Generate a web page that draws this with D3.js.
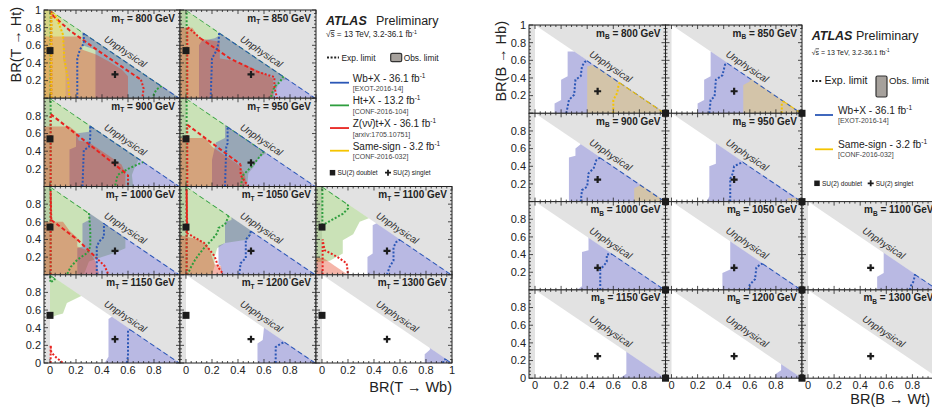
<!DOCTYPE html>
<html><head><meta charset="utf-8">
<script src="https://cdn.jsdelivr.net/npm/d3@7"></script>
<style>
body{margin:0;background:#fff}
svg{display:block}
text{font-family:"Liberation Sans",Arial,Helvetica,sans-serif;fill:#222}
</style>
</head><body>
<svg id="c" width="932" height="409"></svg>
<script>
// ---------- data ----------
const massesT = [800, 850, 900, 950, 1000, 1050, 1100, 1150, 1200, 1300];
const massesB = [800, 850, 900, 950, 1000, 1050, 1100, 1150, 1200, 1300];
const xTickLabels = ["0", "0.2", "0.4", "0.6", "0.8", "1"];
const yTickLabels = ["0", "0.2", "0.4", "0.6", "0.8", "1"];
const tDoublet = [0, 0.54], tSinglet = [0.5, 0.27];
const bDoublet = [1, 0], bSinglet = [0.48, 0.25];

// observed exclusion regions, BR(Wb|Wt) vs BR(Ht|Hb), one entry per mass
const htObsT = [
  [[-0.05,0],[-0.05,1.2],[1.2,1.2],[1.2,0]],
  [[-0.05,1.2],[1.2,1.2],[0.79,0.21],[0.72,0.2],[0.7,0.12],[0.68,0.05],[0.68,0],[-0.05,0]],
  [[-0.05,1.2],[1.2,1.2],[0.69,0.33],[0.65,0.21],[0.63,0.13],[0.64,0],[-0.05,0]],
  [[-0.05,1.2],[1.2,1.2],[0.62,0.38],[0.56,0.33],[0.52,0.22],[0.48,0.15],[0.47,0],[-0.05,0]],
  [[-0.05,1.2],[1.2,1.2],[0.58,0.42],[0.58,0.3],[0.5,0.25],[0.4,0.2],[0.3,0.15],[0.26,0],[-0.05,0]],
  [[-0.05,1.2],[1.2,1.2],[0.51,0.49],[0.48,0.4],[0.3,0.36],[0.24,0.3],[0.22,0.2],[0.22,0.1],[0.2,0],[-0.05,0]],
  [[-0.05,1.2],[0.4,1.2],[0.36,0.64],[0.29,0.6],[0.24,0.46],[0.16,0.39],[0.16,0.24],[0.06,0.16],[-0.05,0.14]],
  [[0,1.2],[0.3,1.2],[0.24,0.76],[0.13,0.68],[0.1,0.56],[0.05,0.54],[0.02,0.52],[0,0.52]],
  null,
  null
];
const wbObsT = [
  [[0.25,1.2],[0.25,0.6],[0.35,0.55],[0.35,0],[1.2,0],[1.2,1.2]],
  [[0.27,1.2],[0.27,0.72],[0.22,0.68],[0.12,0.65],[0.1,0.6],[0.1,0],[1.2,0],[1.2,1.2]],
  [[0.3,1.2],[0.3,0.62],[0.2,0.6],[0.2,0.45],[0.15,0.42],[0.15,0],[1.2,0],[1.2,1.2]],
  [[0.3,1.2],[0.3,0.55],[0.23,0.5],[0.2,0.3],[0.2,0],[1.2,0],[1.2,1.2]],
  [[0.3,1.2],[0.3,0.62],[0.25,0.58],[0.25,0.32],[0.21,0.3],[0.21,0],[1.2,0],[1.2,1.2]],
  [[0.35,1.2],[0.35,0.62],[0.3,0.6],[0.3,0.36],[0.25,0.33],[0.25,0.12],[0.27,0.1],[0.27,0],[1.2,0],[1.2,1.2]],
  [[0.35,0],[0.35,0.2],[0.39,0.24],[0.39,0.56],[0.44,0.6],[0.44,1.2],[1.2,1.2],[1.2,0]],
  [[0.42,0],[0.45,0.07],[0.45,0.5],[0.5,0.55],[0.5,1.2],[1.2,1.2],[1.2,0]],
  [[0.55,0],[0.55,0.22],[0.59,0.26],[0.6,0.4],[0.6,1.2],[1.2,1.2],[1.2,0]],
  [[0.79,0],[0.79,0.1],[0.83,0.15],[0.83,1.2],[1.2,1.2],[1.2,0]]
];
const ztObsT = [
  [[-0.05,0.7],[0.24,0.7],[0.25,0.55],[0.35,0.5],[0.45,0.42],[0.55,0.33],[0.6,0.25],[0.6,0],[-0.05,0]],
  [[-0.05,0.8],[0.05,0.8],[0.1,0.68],[0.26,0.64],[0.26,0.45],[0.35,0.43],[0.5,0.35],[0.6,0.28],[0.67,0.22],[0.67,0],[-0.05,0]],
  [[-0.05,0.68],[0.15,0.68],[0.2,0.62],[0.22,0.52],[0.3,0.5],[0.35,0.45],[0.45,0.35],[0.55,0.25],[0.58,0.15],[0.58,0],[-0.05,0]],
  [[-0.05,0.55],[0.15,0.55],[0.2,0.45],[0.3,0.35],[0.4,0.25],[0.45,0.15],[0.47,0],[-0.05,0]],
  [[-0.05,0.6],[0.1,0.6],[0.15,0.5],[0.21,0.42],[0.21,0.32],[0.3,0.27],[0.35,0.15],[0.38,0],[-0.05,0]],
  [[-0.05,0.45],[0.1,0.4],[0.18,0.3],[0.2,0.2],[0.22,0.12],[0.27,0.1],[0.28,0],[-0.05,0]],
  [[-0.05,0.2],[0.02,0.18],[0.1,0.1],[0.2,0],[-0.05,0]],
  null, null, null
];
const ssObsT = [
  [[-0.05,1.2],[0.06,1.2],[0.1,0.75],[0.1,0.45],[0.12,0.3],[0.12,0],[-0.05,0]],
  null, null, null, null, null, null, null, null, null
];

// expected limit contours
const htExpT = [
  [[0.005,0],[0.005,1],[0.86,0.14],[0.82,0.1],[0.8,0.05],[0.79,0]],
  [[0.005,0],[0.005,1],[0.75,0.25],[0.72,0.18],[0.68,0.13],[0.65,0]],
  [[0.005,0],[0.005,1],[0.72,0.28],[0.6,0.2],[0.52,0.13],[0.5,0]],
  [[0.005,0],[0.005,1],[0.6,0.4],[0.52,0.25],[0.44,0.13],[0.42,0]],
  [[0.005,0],[0.005,1],[0.3,0.7],[0.31,0.5],[0.31,0.32],[0.29,0.25],[0.21,0.17],[0.16,0.09],[0.13,0]],
  [[0.005,0],[0.005,1],[0.33,0.67],[0.3,0.57],[0.25,0.53],[0.24,0.47],[0.19,0.38],[0.16,0.34],[0.11,0.25],[0.07,0.17],[0.04,0.09],[0.01,0]],
  [[0.003,0.56],[0.003,1],[0.2,0.8],[0.2,0.75],[0.16,0.69],[0.05,0.6],[0.003,0.56]],
  [[0.003,0.92],[0.003,1],[0.04,0.96],[0.03,0.93],[0.003,0.92]],
  null, null
];
const ztExpT = [
  [[0.01,0],[0.01,0.99],[0.02,0.94],[0.15,0.77],[0.36,0.55],[0.7,0.21],[0.72,0.11],[0.71,0]],
  [[0.01,0],[0.01,0.81],[0.11,0.68],[0.34,0.45],[0.55,0.3],[0.68,0.24],[0.68,0.13],[0.7,0]],
  [[0.005,0],[0.005,0.82],[0.3,0.48],[0.6,0.13],[0.6,0]],
  [[0.01,0],[0.01,0.7],[0.42,0.25],[0.42,0.13],[0.48,0]],
  [[0.005,0],[0.005,0.95],[0.01,0.62],[0.21,0.4],[0.35,0.2],[0.42,0.1],[0.45,0]],
  [[0.005,0],[0.005,0.97],[0.01,0.47],[0.14,0.36],[0.22,0.21],[0.25,0.08],[0.29,0]],
  [[0.005,0],[0.005,0.4],[0.02,0.28],[0.12,0.2],[0.19,0.13],[0.2,0]],
  [[0.005,0],[0.005,0.2],[0.01,0.12],[0.05,0.06],[0.1,0]],
  null, null
];
const wbExpT = [
  [[0.21,0],[0.21,0.45],[0.23,0.55],[0.26,0.62],[0.26,0.74],[1,0]],
  [[0.19,0],[0.2,0.45],[0.23,0.53],[0.25,0.62],[0.255,0.745],[1,0]],
  [[0.25,0],[0.26,0.41],[0.3,0.45],[0.31,0.56],[0.31,0.69],[1,0]],
  [[0.3,0],[0.31,0.45],[0.32,0.49],[0.32,0.68],[1,0]],
  [[0.36,0],[0.36,0.32],[0.38,0.38],[0.415,0.43],[0.415,0.585],[1,0]],
  [[0.41,0],[0.42,0.13],[0.46,0.19],[0.46,0.4],[0.49,0.45],[0.5,0.5],[1,0]],
  [[0.5,0],[0.52,0.09],[0.55,0.16],[0.55,0.31],[0.57,0.37],[0.6,0.4],[1,0]],
  [[0.59,0],[0.6,0.07],[0.6,0.37],[0.62,0.38],[1,0]],
  [[0.69,0],[0.69,0.18],[0.73,0.22],[0.76,0.24],[1,0]],
  [[0.93,0],[0.94,0.04],[0.955,0.045],[1,0]]
];
const ssExpT = [
  [[0.01,0],[0.01,1],[0.03,0.98],[0.08,0.8],[0.1,0.72],[0.11,0.45],[0.14,0.2],[0.15,0]],
  null, null, null, null, null, null, null, null, null
];

const wbObsB = [
  [[0.15,0],[0.15,0.11],[0.2,0.15],[0.2,0.38],[0.25,0.42],[0.25,0.7],[0.3,0.7],[0.3,1.2],[1.2,1.2],[1.2,0]],
  [[0.2,0],[0.2,0.11],[0.25,0.15],[0.25,0.38],[0.3,0.42],[0.3,0.7],[0.35,0.7],[0.35,1.2],[1.2,1.2],[1.2,0]],
  [[0.26,0],[0.26,0.5],[0.31,0.52],[0.31,0.6],[0.35,0.65],[0.35,1.2],[1.2,1.2],[1.2,0]],
  [[0.27,0],[0.29,0.06],[0.29,0.4],[0.34,0.43],[0.34,1.2],[1.2,1.2],[1.2,0]],
  [[0.32,0],[0.36,0.04],[0.36,0.43],[0.41,0.45],[0.41,1.2],[1.2,1.2],[1.2,0]],
  [[0.39,0],[0.39,0.19],[0.45,0.23],[0.45,1.2],[1.2,1.2],[1.2,0]],
  [[0.53,0],[0.53,0.15],[0.58,0.19],[0.58,1.2],[1.2,1.2],[1.2,0]],
  [[0.65,0],[0.7,0.05],[0.7,1.2],[1.2,1.2],[1.2,0]],
  [[0.79,0],[0.8,0.05],[0.84,0.09],[0.84,1.2],[1.2,1.2],[1.2,0]],
  null
];
const ssObsB = [
  [[0.4,0],[0.4,0.53],[0.45,0.55],[0.45,1.2],[1.2,1.2],[1.2,0]],
  [[0.55,0],[0.55,0.32],[0.6,0.36],[0.6,1.2],[1.2,1.2],[1.2,0]],
  [[0.76,0],[0.76,0.15],[0.8,0.18],[0.8,1.2],[1.2,1.2],[1.2,0]],
  [[0.89,0],[0.89,0.04],[1.2,0.04],[1.2,0]],
  null, null, null, null, null, null
];
const wbExpB = [
  [[0.24,0],[0.26,0.15],[0.3,0.21],[0.31,0.38],[0.35,0.42],[0.36,0.53],[0.38,0.58],[0.4,0.6],[1,0]],
  [[0.29,0],[0.3,0.15],[0.33,0.19],[0.34,0.38],[0.39,0.43],[0.41,0.55],[0.43,0.57],[1,0]],
  [[0.35,0],[0.36,0.13],[0.4,0.17],[0.41,0.32],[0.45,0.38],[0.47,0.47],[0.5,0.5],[1,0]],
  [[0.45,0],[0.45,0.26],[0.47,0.32],[0.48,0.4],[0.52,0.43],[0.55,0.45],[1,0]],
  [[0.5,0],[0.5,0.23],[0.53,0.28],[0.55,0.32],[0.55,0.4],[0.59,0.41],[1,0]],
  [[0.59,0],[0.6,0.06],[0.64,0.12],[0.65,0.25],[0.68,0.29],[0.7,0.3],[1,0]],
  [[0.78,0],[0.79,0.05],[0.81,0.1],[0.82,0.18],[1,0]],
  null, null, null
];
const ssExpB = [
  [[0.6,0],[0.6,0.15],[0.63,0.23],[0.64,0.32],[0.65,0.35],[1,0]],
  [[0.845,0],[0.845,0.11],[0.86,0.14],[1,0]],
  null, null, null, null, null, null, null, null
];

const legendT = [
  ["wb", "Wb+X - 36.1 fb", "[EXOT-2016-14]"],
  ["ht", "Ht+X - 13.2 fb", "[CONF-2016-104]"],
  ["zt", "Z(\u03bd\u03bd\u0304)t+X - 36.1 fb", "[arxiv:1705.10751]"],
  ["ss", "Same-sign - 3.2 fb", "[CONF-2016-032]"]
];
const legendB = [legendT[0], legendT[3]];

// ---------- styling ----------
const GRAY = "#e2e2e2";
const fillColor = {ht: "#74b443", wb: "#4646b6", zt: "#e63c1e", ss: "#ffd74b"};
const lineColor = {ht: "#2e9e3e", wb: "#2b57b6", zt: "#e8231f", ss: "#f5c400"};
const FILL_OPACITY = 0.38;
const dashes = {diag: "5,3", slant: "4,2.5", dot: "2,1.8"};

const svg = d3.select("#c");
svg.append("rect").attr("width", 932).attr("height", 409).attr("fill", "#fff");

// slot of each mass point in the 4x3 grid
const slots = [[0,0],[0,1],[1,0],[1,1],[2,0],[2,1],[2,2],[3,0],[3,1],[3,2]];

const figT = {cols: [44, 180, 316], w: 136, rows: [10, 98.25, 186.5, 274.75], h: 88.25, lastX: true};
const figB = {cols: [529, 665.5, 802], w: 136.5, rows: [25, 113.3, 201.6, 289.9], h: 88.3, lastX: false};

const markerLayer = [];
let clipId = 0;

function splitRuns(pts, xs, ys) {
  const runs = [];
  for (let i = 1; i < pts.length; i++) {
    const a = pts[i - 1], b = pts[i];
    const onDiag = Math.abs(a[0] + a[1] - 1) < 0.012 && Math.abs(b[0] + b[1] - 1) < 0.012;
    const dx = Math.abs(xs(b[0]) - xs(a[0])), dy = Math.abs(ys(b[1]) - ys(a[1]));
    const style = onDiag ? "diag" : (dx > 12 && dy > 12 ? "slant" : "dot");
    const last = runs[runs.length - 1];
    if (last && last.style === style) last.pts.push(b);
    else runs.push({style, pts: [a, b]});
  }
  return runs;
}

function drawPanel(fig, idx, mass, sub, obs, exp, doublet, singlet) {
  const [r, c] = slots[idx];
  const x0 = fig.cols[c], y0 = fig.rows[r], w = fig.w, h = fig.h;
  const xs = d3.scaleLinear().domain([-0.046, 1]).range([x0, x0 + w]);
  const ys = d3.scaleLinear().domain([0, 1]).range([y0 + h, y0]);
  const g = svg.append("g");
  const P = pts => pts.map(p => [xs(p[0]), ys(p[1])]);
  const line = d3.line();

  g.append("rect").attr("x", x0).attr("y", y0).attr("width", w).attr("height", h).attr("fill", "#fff");
  // unphysical: BR sum above one, and the strip left of zero
  g.append("path").attr("d", line(P([[0,1],[1,0],[1,1]])) + "Z").attr("fill", GRAY);
  g.append("rect").attr("x", xs(-0.046)).attr("y", y0).attr("width", xs(0) - xs(-0.046)).attr("height", h).attr("fill", GRAY);

  const id = "phys" + (clipId++);
  g.append("clipPath").attr("id", id).append("path")
    .attr("d", line(P([[-0.046,0],[1,0],[0,1],[-0.046,1]])) + "Z");
  const fg = g.append("g").attr("clip-path", `url(#${id})`);
  obs.forEach(([key, arr]) => {
    const poly = arr[idx];
    if (!poly) return;
    fg.append("path").attr("d", line(P(poly)) + "Z")
      .attr("fill", fillColor[key]).attr("fill-opacity", FILL_OPACITY);
  });

  g.append("text")
    .attr("transform", `translate(${xs(0.58)},${ys(0.53)}) rotate(${Math.atan2(ys(0) - ys(1), xs(1) - xs(0)) * 180 / Math.PI})`)
    .attr("text-anchor", "middle").attr("dy", "0.35em")
    .attr("font-size", 10).attr("font-style", "italic").style("fill", "#333")
    .text("Unphysical");

  const lg = g.append("g").attr("clip-path", `url(#${id})`);
  exp.forEach(([key, arr]) => {
    const pl = arr[idx];
    if (!pl) return;
    splitRuns(pl, xs, ys).forEach(run => {
      lg.append("path").attr("d", line(P(run.pts))).attr("fill", "none")
        .attr("stroke", lineColor[key]).attr("stroke-width", 2)
        .attr("stroke-dasharray", dashes[run.style]);
    });
  });

  // title
  const t = g.append("text").attr("x", x0 + w - 5).attr("y", y0 + 11.5)
    .attr("text-anchor", "end").attr("font-size", 10).attr("font-weight", "bold");
  t.append("tspan").text("m");
  t.append("tspan").attr("font-size", 6.5).attr("dy", 2.5).text(sub);
  t.append("tspan").attr("dy", -2.5).text(" = " + mass + " GeV");

  // ticks on all four sides
  const tg = g.append("g").attr("stroke", "#222").attr("stroke-width", 0.8);
  d3.range(0, 26).forEach(k => {
    const v = k * 0.04, major = k % 5 === 0, len = major ? 4 : 2;
    tg.append("line").attr("x1", xs(v)).attr("x2", xs(v)).attr("y1", y0 + h).attr("y2", y0 + h - len);
    tg.append("line").attr("x1", xs(v)).attr("x2", xs(v)).attr("y1", y0).attr("y2", y0 + len);
    tg.append("line").attr("y1", ys(v)).attr("y2", ys(v)).attr("x1", x0).attr("x2", x0 + len);
    tg.append("line").attr("y1", ys(v)).attr("y2", ys(v)).attr("x1", x0 + w).attr("x2", x0 + w - len);
  });
  g.append("rect").attr("x", x0).attr("y", y0).attr("width", w).attr("height", h)
    .attr("fill", "none").attr("stroke", "#222").attr("stroke-width", 1);

  // tick labels
  if (r === 3) {
    xTickLabels.forEach((lab, k) => {
      if (k === 5 && (c < 2 || !fig.lastX)) return;
      g.append("text").attr("x", xs(k * 0.2)).attr("y", y0 + h + 11)
        .attr("text-anchor", "middle").attr("font-size", 11).text(lab);
    });
  }
  if (c === 0) {
    yTickLabels.forEach((lab, k) => {
      if (k === 0 && r !== 3) return;
      if (k === 5 && r !== 0) return;
      g.append("text").attr("x", x0 - 3).attr("y", ys(k * 0.2)).attr("dy", "0.35em")
        .attr("text-anchor", "end").attr("font-size", 11).text(lab);
    });
  }
  markerLayer.push({x: xs(doublet[0]), y: ys(doublet[1]), kind: "doublet"});
  markerLayer.push({x: xs(singlet[0]), y: ys(singlet[1]), kind: "singlet"});
}

massesT.forEach((m, i) => drawPanel(figT, i, m, "T",
  [["ht", htObsT], ["wb", wbObsT], ["zt", ztObsT], ["ss", ssObsT]],
  [["ht", htExpT], ["zt", ztExpT], ["wb", wbExpT], ["ss", ssExpT]],
  tDoublet, tSinglet));
massesB.forEach((m, i) => drawPanel(figB, i, m, "B",
  [["wb", wbObsB], ["ss", ssObsB]],
  [["wb", wbExpB], ["ss", ssExpB]],
  bDoublet, bSinglet));

function square(g, x, y, s) {
  g.append("rect").attr("x", x - s / 2).attr("y", y - s / 2).attr("width", s).attr("height", s).attr("fill", "#1c1c1c");
}
function cross(g, x, y, s, t) {
  g.append("path").attr("d", `M${x - s / 2},${y}H${x + s / 2}M${x},${y - s / 2}V${y + s / 2}`)
    .attr("stroke", "#1c1c1c").attr("stroke-width", t);
}
const mk = svg.append("g");
markerLayer.forEach(m => m.kind === "doublet" ? square(mk, m.x, m.y, 7) : cross(mk, m.x, m.y, 7, 2.2));

// axis titles
svg.append("text").attr("transform", "translate(21,7) rotate(-90)").attr("text-anchor", "end")
  .attr("font-size", 14.5).text("BR(T \u2192 Ht)");
svg.append("text").attr("transform", "translate(506,21) rotate(-90)").attr("text-anchor", "end")
  .attr("font-size", 14.5).text("BR(B \u2192 Hb)");
svg.append("text").attr("x", 452).attr("y", 392).attr("text-anchor", "end").attr("font-size", 14.5).text("BR(T \u2192 Wb)");
svg.append("text").attr("x", 930).attr("y", 404).attr("text-anchor", "end").attr("font-size", 14.5).text("BR(B \u2192 Wt)");

// legends
function supText(g, x, y, size, main, sup) {
  const t = g.append("text").attr("x", x).attr("y", y).attr("font-size", size);
  t.append("tspan").text(main);
  t.append("tspan").attr("font-size", size * 0.65).attr("dy", -size * 0.4).text(sup);
  return t;
}
function legend(o) {
  const g = svg.append("g");
  g.append("text").attr("x", o.x).attr("y", o.atlasY).attr("font-size", 12.5)
    .attr("font-weight", "bold").attr("font-style", "italic").text("ATLAS");
  g.append("text").attr("x", o.prelimX).attr("y", o.atlasY).attr("font-size", 12.5).text("Preliminary");
  const s = g.append("text").attr("x", o.x).attr("y", o.sY).attr("font-size", o.sSize);
  s.append("tspan").text("\u221a");
  s.append("tspan").style("text-decoration", "overline").text("s");
  s.append("tspan").text(" = 13 TeV, 3.2-36.1 fb");
  s.append("tspan").attr("font-size", o.sSize * 0.65).attr("dy", -o.sSize * 0.4).text("-1");

  g.append("line").attr("x1", o.expX[0]).attr("x2", o.expX[1]).attr("y1", o.expY - 3).attr("y2", o.expY - 3)
    .attr("stroke", "#222").attr("stroke-width", 1.8).attr("stroke-dasharray", "2,1.6");
  g.append("text").attr("x", o.expX[1] + 2.5).attr("y", o.expY).attr("font-size", o.expSize).text("Exp. limit");
  g.append("rect").attr("x", o.box[0]).attr("y", o.box[1]).attr("width", o.box[2]).attr("height", o.box[3])
    .attr("rx", 1.5).attr("fill", "#a6a19c").attr("stroke", "#333").attr("stroke-width", 1.2);
  g.append("text").attr("x", o.box[0] + o.box[2] + 2).attr("y", o.expY).attr("font-size", o.obsSize).text("Obs. limit");

  o.items.forEach(([key, label, ref], i) => {
    const y = o.lineY0 + i * o.step;
    g.append("line").attr("x1", o.lineX[0]).attr("x2", o.lineX[1]).attr("y1", y).attr("y2", y)
      .attr("stroke", lineColor[key]).attr("stroke-width", 1.8);
    supText(g, o.textX, y - 1.2, o.itemSize, label, "-1");
    g.append("text").attr("x", o.textX).attr("y", y + o.refDy).attr("font-size", 7).style("fill", "#444").text(ref);
  });
  square(g, o.markY[0], o.markY[1], 5.5);
  g.append("text").attr("x", o.markY[0] + 5).attr("y", o.markY[1] + 2.3).attr("font-size", 6.5).text("SU(2) doublet");
  cross(g, o.crossX, o.markY[1], 6, 1.8);
  g.append("text").attr("x", o.crossX + 5).attr("y", o.markY[1] + 2.3).attr("font-size", 6.5).text("SU(2) singlet");
}
legend({x: 326, prelimX: 376, atlasY: 25, sY: 37, sSize: 8.2,
  expX: [327, 339], expY: 60.5, expSize: 8.4, obsSize: 8.4, box: [390.7, 53.3, 11, 8.4],
  items: legendT, lineX: [330, 349], lineY0: 82.7, step: 22.67, textX: 352.7, itemSize: 10, refDy: 8.5,
  markY: [332.5, 172.7], crossX: 388});
legend({x: 811.7, prelimX: 856, atlasY: 40, sY: 54.5, sSize: 7,
  expX: [812, 822], expY: 84, expSize: 10.6, obsSize: 9.6, box: [876, 76, 11, 21],
  items: legendB, lineX: [815, 833], lineY0: 115, step: 34.3, textX: 838, itemSize: 10.2, refDy: 7.8,
  markY: [817, 183.3], crossX: 870.7});
</script>
</body></html>
